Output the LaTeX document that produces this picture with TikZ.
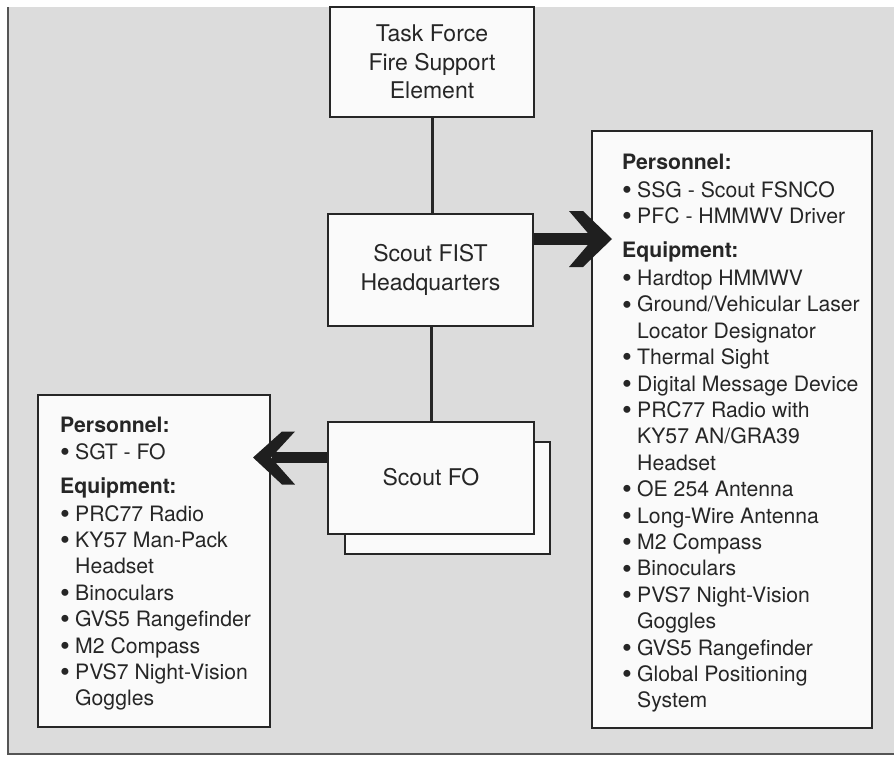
\documentclass[tikz,border=0pt]{standalone}
\usepackage{fontspec}
\setmainfont{TeX Gyre Heros}
\definecolor{bgc}{RGB}{220,220,220}
\definecolor{ink}{RGB}{38,38,38}
\definecolor{framec}{RGB}{85,85,85}
\definecolor{boxfill}{RGB}{250,250,250}
\tikzset{
  box/.style={draw=ink, line width=1.8pt, fill=boxfill, inner sep=0pt, text=ink,
    align=center, font=\fontsize{23}{28.5}\selectfont},
  listbox/.style={draw=ink, line width=1.8pt, fill=boxfill, inner sep=0pt},
  listtext/.style={inner sep=0pt, anchor=base west, text=ink,
    font=\fontsize{21.2}{26.4}\selectfont},
  conn/.style={draw=ink, line width=3pt},
  headfill/.style={fill=black!88, draw=none},
  shaft/.style={draw=black!88, line width=12pt},
}
\newcommand{\bul}{\raisebox{-2.2pt}{\fontsize{28}{28}\selectfont•}\kern5.2pt}
\newcommand{\hdr}[1]{\multicolumn{2}{@{}l@{}}{\bfseries #1}}
\begin{document}
\begin{tikzpicture}[x=1pt,y=-1pt]
\useasboundingbox (0,0) rectangle (894,764);
% background frame
\fill[bgc] (8,7) rectangle (894,754);
\draw[framec, line width=2.5pt] (8,7) -- (8,754) -- (894,754);

% main boxes
\node[box, minimum width=204pt, minimum height=110pt] (tf) at (432,62)
  {Task Force\\Fire Support\\Element};
\node[box, minimum width=205pt, minimum height=112pt] (hq) at (430.5,270)
  {Scout FIST\\Headquarters};
\node[box, minimum width=205pt, minimum height=112pt] (fosh) at (447.5,498) {};
\node[box, minimum width=206pt, minimum height=112pt] (fo) at (431,478)
  {\raisebox{2.5pt}{Scout FO}};

% connectors
\draw[conn] (tf.south) -- (tf.south |- hq.north);
\draw[conn] (fo.north) -- (fo.north |- hq.south);

% list boxes
\node[listbox, minimum width=280pt, minimum height=597pt] (rbox) at (732,429.5) {};
\node[listbox, minimum width=232pt, minimum height=332pt] (lbox) at (154,561) {};

\node[listtext] (rlist) at (622,169) {\begin{tabular}[t]{@{}l@{}l@{}}
\hdr{Personnel:}\\[1.6pt]
\bul & SSG - Scout FSNCO\\
\bul & PFC - HMMWV Driver\\[7.6pt]
\hdr{Equipment:}\\[1.6pt]
\bul & Hardtop HMMWV\\
\bul & Ground/Vehicular Laser\\
     & Locator Designator\\
\bul & Thermal Sight\\
\bul & Digital Message Device\\
\bul & PRC77 Radio with\\
     & KY57 AN/GRA39\\
     & Headset\\
\bul & OE 254 Antenna\\
\bul & Long-Wire Antenna\\
\bul & M2 Compass\\
\bul & Binoculars\\
\bul & PVS7 Night-Vision\\
     & Goggles\\
\bul & GVS5 Rangefinder\\
\bul & Global Positioning\\
     & System
\end{tabular}};

\node[listtext] (llist) at (60,432) {\begin{tabular}[t]{@{}l@{}l@{}}
\hdr{Personnel:}\\[0.6pt]
\bul & SGT - FO\\[7.6pt]
\hdr{Equipment:}\\[1.6pt]
\bul & PRC77 Radio\\
\bul & KY57 Man-Pack\\
     & Headset\\
\bul & Binoculars\\
\bul & GVS5 Rangefinder\\
\bul & M2 Compass\\
\bul & PVS7 Night-Vision\\
     & Goggles
\end{tabular}};

% right big arrow
\coordinate (rtip) at (612,239);
\coordinate (rjoin) at (594,239);
\draw[shaft] (hq.east |- rtip) -- (rjoin);
\fill[headfill] (rtip) -- ++(-29,-28) -- ++(-14,0) -- ++(24,28)
  -- ++(-24,28) -- ++(14,0) -- cycle;

% left big arrow
\coordinate (ltip) at (253,457.5);
\coordinate (ljoin) at (272,457.5);
\draw[shaft, line width=11.6pt] (fo.west |- ltip) -- (ljoin);
\fill[headfill] (ltip) -- ++(29,-26) -- ++(13,0) -- ++(-24,26)
  -- ++(24,27) -- ++(-13,0) -- cycle;
\end{tikzpicture}
\end{document}
